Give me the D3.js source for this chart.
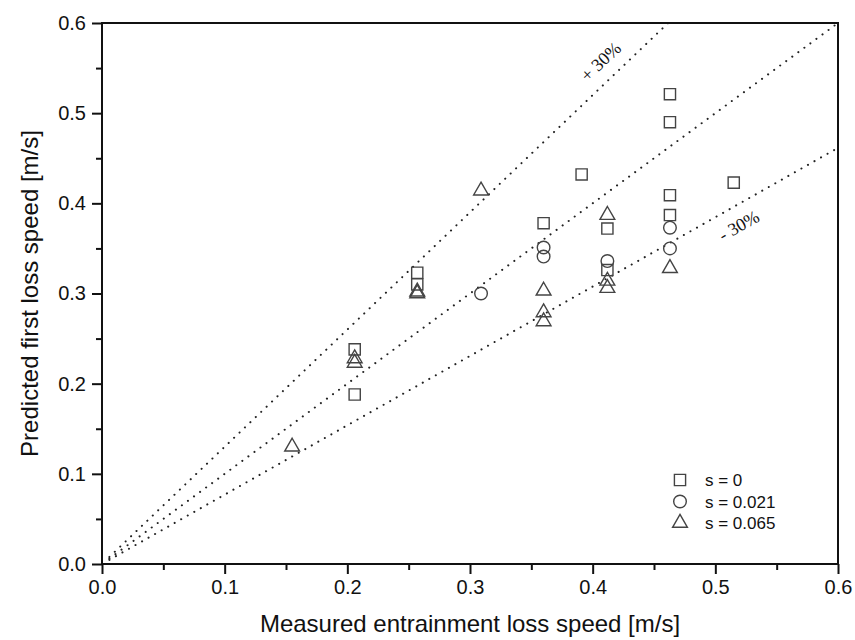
<!DOCTYPE html>
<html>
<head>
<meta charset="utf-8">
<script src="https://cdn.jsdelivr.net/npm/d3@7"></script>
<style>
  body { margin: 0; background: #fff; }
  svg { display: block; }
  text { font-family: "Liberation Sans", Arial, sans-serif; fill: #111; }
</style>
</head>
<body>
<svg id="chart" width="855" height="640"></svg>
<script>
// measured entrainment loss speed vs predicted first loss speed [m/s]
var measured_s0   = [0.206, 0.206, 0.257, 0.257, 0.360, 0.391, 0.412, 0.412, 0.463, 0.463, 0.463, 0.463, 0.515];
var predicted_s0  = [0.238, 0.188, 0.323, 0.310, 0.378, 0.432, 0.372, 0.326, 0.521, 0.490, 0.409, 0.387, 0.423];

var measured_s021  = [0.309, 0.360, 0.360, 0.412, 0.463, 0.463];
var predicted_s021 = [0.300, 0.351, 0.341, 0.336, 0.373, 0.350];

var measured_s065  = [0.155, 0.206, 0.206, 0.257, 0.257, 0.309, 0.360, 0.360, 0.360, 0.412, 0.412, 0.412, 0.463];
var predicted_s065 = [0.130, 0.228, 0.223, 0.300, 0.302, 0.414, 0.303, 0.279, 0.269, 0.387, 0.314, 0.306, 0.328];

var seriesNames = ["s = 0", "s = 0.021", "s = 0.065"];
var majorTicks = [0, 0.1, 0.2, 0.3, 0.4, 0.5, 0.6];
var minorTicks = [0.05, 0.15, 0.25, 0.35, 0.45, 0.55];
var refFactors = [1.3, 1, 1 / 1.3];   // +30%, 1:1, -30%

var svg = d3.select("#chart");
var pLeft = 102, pRight = 838, pTop = 23, pBottom = 564;

var x = d3.scaleLinear().domain([0, 0.6]).range([pLeft, pRight]);
var y = d3.scaleLinear().domain([0, 0.6]).range([pBottom, pTop]);

// reference lines
var lines_g = svg.append("g");
refFactors.forEach(function(f) {
    var x1 = Math.min(0.6, 0.6 / f);
    lines_g.append("line")
        .attr("x1", x(0.006)).attr("y1", y(0.006 * f))
        .attr("x2", x(x1)).attr("y2", y(x1 * f))
        .attr("stroke", "#222")
        .attr("stroke-width", 2)
        .attr("stroke-linecap", "round")
        .attr("stroke-dasharray", "0.1,7.4");
});

function angleOf(f) {
    return -Math.atan2(y(0) - y(0.1 * f), x(0.1) - x(0)) * 180 / Math.PI;
}
svg.append("text")
    .attr("transform", "translate(605,66) rotate(" + angleOf(1.3) + ")")
    .attr("text-anchor", "middle")
    .style("font-family", "'Liberation Serif', 'Times New Roman', serif")
    .style("font-size", "18px")
    .text("+ 30%");
svg.append("text")
    .attr("transform", "translate(742,231) rotate(" + angleOf(1 / 1.3) + ")")
    .attr("text-anchor", "middle")
    .style("font-family", "'Liberation Serif', 'Times New Roman', serif")
    .style("font-size", "18px")
    .text("- 30%");

// markers
var sym = {
    square: d3.symbol().type(d3.symbolSquare).size(125),
    circle: d3.symbol().type(d3.symbolCircle).size(125),
    triangle: d3.symbol().type(d3.symbolTriangle).size(95)
};
var series = [
    {xs: measured_s0, ys: predicted_s0, shape: "square"},
    {xs: measured_s021, ys: predicted_s021, shape: "circle"},
    {xs: measured_s065, ys: predicted_s065, shape: "triangle"}
];
var pts_g = svg.append("g");
series.forEach(function(s) {
    for (var i = 0; i < s.xs.length; i++) {
        pts_g.append("path")
            .attr("d", sym[s.shape]())
            .attr("transform", "translate(" + x(s.xs[i]) + "," + y(s.ys[i]) + ")")
            .attr("fill", "none")
            .attr("stroke", "#444")
            .attr("stroke-width", 1.4);
    }
});

// axes
var xAxis = d3.axisBottom(x).tickValues(majorTicks).tickFormat(d3.format(".1f")).tickSize(10).tickPadding(6);
var yAxis = d3.axisLeft(y).tickValues(majorTicks).tickFormat(d3.format(".1f")).tickSize(10).tickPadding(6);
svg.append("g").attr("transform", "translate(0," + pBottom + ")").call(xAxis);
svg.append("g").attr("transform", "translate(" + pLeft + ",0)").call(yAxis);
svg.append("g").attr("transform", "translate(0," + pBottom + ")")
    .call(d3.axisBottom(x).tickValues(minorTicks).tickFormat("").tickSize(6));
svg.append("g").attr("transform", "translate(" + pLeft + ",0)")
    .call(d3.axisLeft(y).tickValues(minorTicks).tickFormat("").tickSize(6));
svg.selectAll(".domain").remove();
svg.selectAll(".tick line").attr("stroke", "#111").attr("stroke-width", 2);
svg.selectAll(".tick text").style("font-size", "20px").attr("fill", "#111");

svg.append("rect")
    .attr("x", pLeft).attr("y", pTop)
    .attr("width", pRight - pLeft).attr("height", pBottom - pTop)
    .attr("fill", "none").attr("stroke", "#111").attr("stroke-width", 2);

svg.append("text")
    .attr("x", (pLeft + pRight) / 2).attr("y", 632)
    .attr("text-anchor", "middle")
    .style("font-size", "24px")
    .text("Measured entrainment loss speed [m/s]");
svg.append("text")
    .attr("transform", "translate(38," + (pTop + pBottom) / 2 + ") rotate(-90)")
    .attr("text-anchor", "middle")
    .style("font-size", "24px")
    .text("Predicted first loss speed [m/s]");

// legend
var leg = svg.append("g");
["square", "circle", "triangle"].forEach(function(shape, i) {
    var ly = 480 + i * 21.5;
    leg.append("path")
        .attr("d", sym[shape]())
        .attr("transform", "translate(680," + ly + ")")
        .attr("fill", "none").attr("stroke", "#444").attr("stroke-width", 1.4);
    leg.append("text")
        .attr("x", 705).attr("y", ly + 6)
        .style("font-size", "17px")
        .text(seriesNames[i]);
});
</script>
</body>
</html>
